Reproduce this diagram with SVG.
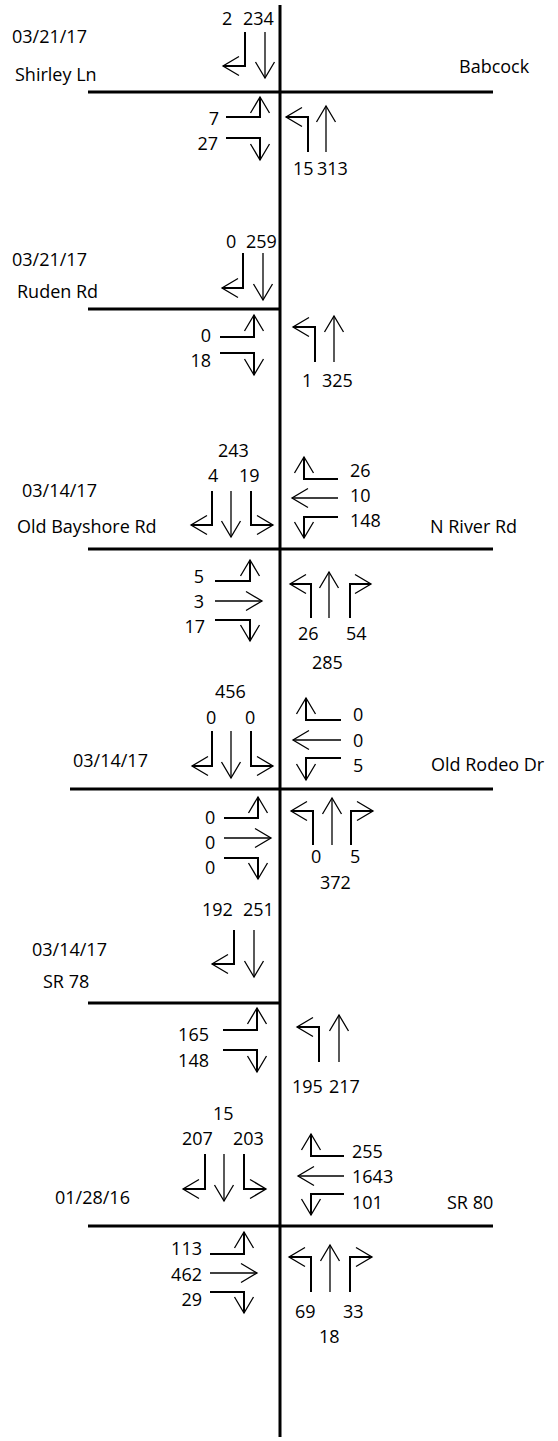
<svg xmlns="http://www.w3.org/2000/svg" width="558" height="1441" viewBox="0 0 558 1441">
  <defs>
    <marker id="ah" markerUnits="userSpaceOnUse" markerWidth="24" markerHeight="24" viewBox="-20 -12 24 24" refX="0" refY="0" orient="auto" overflow="visible">
      <path d="M-16,-9.5 L0,0 L-16,9.5" fill="none" stroke="#000" stroke-width="1.3"/>
    </marker>
    <style>
      text { font-family: "Open Sans", "Liberation Sans", sans-serif; font-size: 18px; fill: #000; }
      .r { text-anchor: end; }
      .road { stroke: #000; stroke-width: 3; fill: none; }
      .turn { stroke: #000; stroke-width: 2; fill: none; marker-end: url(#ah); }
      .thru { stroke: #000; stroke-width: 1.3; fill: none; marker-end: url(#ah); }
    </style>
  </defs>
  <rect width="558" height="1441" fill="#fff"/>

  <!-- main north-south corridor -->
  <g id="corridor">
    <line class="road" x1="280" y1="5" x2="280" y2="1437"/>
  </g>

  <!-- cross streets -->
  <g id="cross-streets">
    <line class="road" x1="88" y1="92" x2="493" y2="92"/>
    <line class="road" x1="88" y1="309" x2="280" y2="309"/>
    <line class="road" x1="88" y1="549" x2="493" y2="549"/>
    <line class="road" x1="70" y1="789" x2="493" y2="789"/>
    <line class="road" x1="88" y1="1003" x2="280" y2="1003"/>
    <line class="road" x1="88" y1="1226" x2="493" y2="1226"/>
  </g>

  <!-- Shirley Ln / Babcock -->
  <g id="int-shirley">
    <text x="12" y="43">03/21/17</text>
    <text x="15" y="81">Shirley Ln</text>
    <text x="459" y="73">Babcock</text>
    <text x="222" y="25">2</text>
    <text x="243" y="25">234</text>
    <path class="turn" d="M245,32 V66 H223"/>
    <path class="thru" d="M265,32 V78"/>
    <text class="r" x="219" y="125">7</text>
    <text class="r" x="218" y="150">27</text>
    <path class="turn" d="M226,117 H260 V97"/>
    <path class="turn" d="M226,138 H260 V160"/>
    <path class="turn" d="M308,152 V117 H286"/>
    <path class="thru" d="M326,152 V106"/>
    <text x="293" y="175">15</text>
    <text x="317" y="175">313</text>
  </g>

  <!-- Ruden Rd -->
  <g id="int-ruden">
    <text x="12" y="266">03/21/17</text>
    <text x="17" y="298">Ruden Rd</text>
    <text x="226" y="248">0</text>
    <text x="246" y="248">259</text>
    <path class="turn" d="M243,253 V288 H222"/>
    <path class="thru" d="M263,253 V300"/>
    <text class="r" x="211" y="342">0</text>
    <text class="r" x="211" y="367">18</text>
    <path class="turn" d="M220,337 H254 V315"/>
    <path class="turn" d="M220,353 H254 V375"/>
    <path class="turn" d="M315,362 V327 H293"/>
    <path class="thru" d="M334,362 V316"/>
    <text x="302" y="387">1</text>
    <text x="322" y="387">325</text>
  </g>

  <!-- Old Bayshore Rd / N River Rd -->
  <g id="int-bayshore">
    <text x="22" y="497">03/14/17</text>
    <text x="17" y="533">Old Bayshore Rd</text>
    <text x="430" y="533">N River Rd</text>
    <text x="218" y="457">243</text>
    <text x="208" y="482">4</text>
    <text x="239" y="482">19</text>
    <path class="turn" d="M212,491 V525 H191"/>
    <path class="thru" d="M231,491 V537"/>
    <path class="turn" d="M251,491 V525 H273"/>
    <path class="turn" d="M338,479 H304 V457"/>
    <path class="thru" d="M338,498 H292"/>
    <path class="turn" d="M338,517 H304 V538"/>
    <text x="350" y="477">26</text>
    <text x="350" y="502">10</text>
    <text x="350" y="527">148</text>
    <path class="turn" d="M215,581 H250 V560"/>
    <path class="thru" d="M215,601 H262"/>
    <path class="turn" d="M215,620 H250 V641"/>
    <text class="r" x="204" y="583">5</text>
    <text class="r" x="204" y="608">3</text>
    <text class="r" x="205" y="633">17</text>
    <path class="turn" d="M311,618 V584 H290"/>
    <path class="thru" d="M329,618 V572"/>
    <path class="turn" d="M350,618 V584 H371"/>
    <text x="298" y="640">26</text>
    <text x="346" y="640">54</text>
    <text x="312" y="669">285</text>
  </g>

  <!-- Old Rodeo Dr -->
  <g id="int-rodeo">
    <text x="73" y="767">03/14/17</text>
    <text x="431" y="771">Old Rodeo Dr</text>
    <text x="215" y="698">456</text>
    <text x="206" y="724">0</text>
    <text x="245" y="724">0</text>
    <path class="turn" d="M212,731 V766 H192"/>
    <path class="thru" d="M231,731 V778"/>
    <path class="turn" d="M251,731 V766 H273"/>
    <path class="turn" d="M341,720 H306 V698"/>
    <path class="thru" d="M341,740 H293"/>
    <path class="turn" d="M341,758 H306 V780"/>
    <text x="353" y="721">0</text>
    <text x="353" y="747">0</text>
    <text x="353" y="772">5</text>
    <path class="turn" d="M224,818 H258 V797"/>
    <path class="thru" d="M224,838 H271"/>
    <path class="turn" d="M224,858 H258 V879"/>
    <text x="205" y="824">0</text>
    <text x="205" y="849">0</text>
    <text x="205" y="874">0</text>
    <path class="turn" d="M313,845 V811 H291"/>
    <path class="thru" d="M332,845 V798"/>
    <path class="turn" d="M351,845 V811 H373"/>
    <text x="311" y="863">0</text>
    <text x="350" y="863">5</text>
    <text x="320" y="889">372</text>
  </g>

  <!-- SR 78 -->
  <g id="int-sr78">
    <text x="32" y="956">03/14/17</text>
    <text x="43" y="988">SR 78</text>
    <text x="202" y="916">192</text>
    <text x="243" y="916">251</text>
    <path class="turn" d="M234,930 V964 H212"/>
    <path class="thru" d="M254,930 V977"/>
    <path class="turn" d="M223,1030 H257 V1008"/>
    <path class="turn" d="M223,1050 H257 V1072"/>
    <text class="r" x="209" y="1041">165</text>
    <text class="r" x="209" y="1067">148</text>
    <path class="turn" d="M319,1062 V1027 H297"/>
    <path class="thru" d="M339,1062 V1015"/>
    <text x="292" y="1093">195</text>
    <text x="329" y="1093">217</text>
  </g>

  <!-- SR 80 -->
  <g id="int-sr80">
    <text x="55" y="1204">01/28/16</text>
    <text x="447" y="1209">SR 80</text>
    <text x="213" y="1120">15</text>
    <text x="182" y="1145">207</text>
    <text x="233" y="1145">203</text>
    <path class="turn" d="M205,1154 V1189 H183"/>
    <path class="thru" d="M224,1154 V1201"/>
    <path class="turn" d="M244,1154 V1189 H266"/>
    <path class="turn" d="M344,1156 H311 V1134"/>
    <path class="thru" d="M344,1176 H298"/>
    <path class="turn" d="M344,1194 H311 V1215"/>
    <text x="352" y="1158">255</text>
    <text x="352" y="1183">1643</text>
    <text x="352" y="1209">101</text>
    <path class="turn" d="M210,1254 H244 V1232"/>
    <path class="thru" d="M210,1273 H257"/>
    <path class="turn" d="M210,1292 H244 V1313"/>
    <text class="r" x="202" y="1255">113</text>
    <text class="r" x="202" y="1281">462</text>
    <text class="r" x="202" y="1306">29</text>
    <path class="turn" d="M311,1292 V1257 H289"/>
    <path class="thru" d="M330,1292 V1245"/>
    <path class="turn" d="M350,1292 V1257 H372"/>
    <text x="295" y="1318">69</text>
    <text x="343" y="1318">33</text>
    <text x="319" y="1343">18</text>
  </g>
</svg>
